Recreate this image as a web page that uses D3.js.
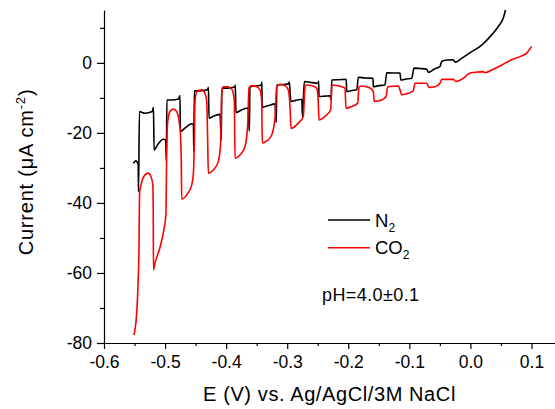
<!DOCTYPE html>
<html>
<head>
<meta charset="utf-8">
<script src="https://cdn.jsdelivr.net/npm/d3@7"></script>
<style>
  body { margin: 0; background: #fff; }
  text { font-family: Arial, "Liberation Sans", sans-serif; }
</style>
</head>
<body>
<div id="chart"></div>
<script>
// potential (V) and current density (uA cm-2)
const n2E = [-0.552,-0.548,-0.544,-0.5435,-0.542,-0.533,-0.521,-0.519,-0.518,-0.512,
  -0.503,-0.499,-0.498,-0.497,-0.489,-0.478,-0.4755,-0.475,-0.466,-0.456,
  -0.4535,-0.453,-0.452,-0.443,-0.4305,-0.429,-0.428,-0.420,-0.410,-0.408,
  -0.407,-0.397,-0.386,-0.385,-0.384,-0.374,-0.364,-0.362,-0.361,-0.351,
  -0.342,-0.3415,-0.341,-0.331,-0.320,-0.318,-0.317,-0.307,-0.298,-0.2965,
  -0.294,-0.286,-0.276,-0.275,-0.272,-0.261,-0.249,-0.2485,-0.248,-0.238,
  -0.230,-0.228,-0.227,-0.215,-0.2034,-0.2025,-0.194,-0.186,-0.1836,-0.173,
  -0.1595,-0.159,-0.150,-0.140,-0.137,-0.127,-0.1153,-0.114,-0.1055,-0.096,
  -0.0924,-0.0825,-0.0716,-0.0689,-0.0596,-0.0498,-0.047,-0.0383,-0.028,-0.0252,
  -0.0143,0.0021,0.0185,0.0348,0.0457,0.0538,0.0574];
const n2I = [-28.7,-28.0,-29,-36.8,-13.9,-14.4,-13.9,-12.7,-24.9,-23.3,
  -21.8,-22,-28,-10.6,-10.6,-10.3,-9.3,-19.6,-18.4,-17.4,
  -17.6,-25.3,-8.0,-8.0,-7.7,-7.0,-15.8,-15.2,-14.7,-22,
  -7.2,-7.2,-6.9,-6.3,-14.2,-13.4,-12.9,-19.5,-6.8,-6.6,
  -6.3,-5.5,-12.7,-12.2,-11.7,-17,-6.3,-6.2,-6.0,-5.5,
  -11.0,-10.7,-10.4,-15.3,-5.3,-5.6,-5.8,-5.2,-9.6,-9.5,
  -9.4,-10.5,-4.9,-4.8,-4.7,-8.2,-7.9,-7.7,-4.1,-4.3,
  -4.4,-6.8,-6.5,-6.3,-2.8,-2.9,-2.9,-4.9,-4.6,-4.4,
  -1.5,-1.6,-1.8,-2.7,-1.8,-1.0,0.4,0.8,0.9,0.2,
  1.3,3.2,5.1,8.0,10.4,12.8,15.1];

const co2E = [-0.551,-0.5465,-0.544,-0.5427,-0.5422,-0.5415,-0.538,-0.533,-0.5275,-0.523,
  -0.520,-0.5194,-0.519,-0.5165,-0.508,-0.502,-0.4985,-0.4977,-0.4957,-0.492,
  -0.4865,-0.481,-0.4755,-0.4735,-0.4728,-0.4646,-0.4564,-0.4538,-0.4521,-0.451,
  -0.448,-0.440,-0.4346,-0.4318,-0.4302,-0.4292,-0.421,-0.4128,-0.4089,-0.4073,
  -0.4046,-0.3965,-0.390,-0.3866,-0.3855,-0.3773,-0.3691,-0.3647,-0.3626,-0.3581,
  -0.350,-0.3446,-0.3418,-0.3408,-0.3336,-0.3254,-0.320,-0.3172,-0.3118,-0.3036,
  -0.2982,-0.2954,-0.2938,-0.2818,-0.2736,-0.2709,-0.2681,-0.2545,-0.2507,-0.2491,
  -0.248,-0.2381,-0.2288,-0.2271,-0.2245,-0.2108,-0.2054,-0.2037,-0.1944,-0.1846,
  -0.1824,-0.178,-0.1644,-0.159,-0.1574,-0.1453,-0.1382,-0.1355,-0.1181,-0.1153,
  -0.1125,-0.1017,-0.0935,-0.0907,-0.0716,-0.0678,-0.058,-0.0498,-0.047,-0.028,
  -0.0241,-0.0116,-0.0007,0.0075,0.0211,0.0239,0.0375,0.0512,0.0676,0.084,
  0.0922,0.1003];
const co2I = [-77.7,-71.5,-62,-52.5,-43,-36.8,-33.9,-32,-31.5,-32.5,
  -34.9,-41.5,-59.1,-57.2,-52.5,-47.7,-43,-30,-16.8,-13.9,
  -13.2,-13.9,-18.7,-27.2,-38.9,-37.7,-34.9,-32,-22.5,-11,
  -8.2,-7.7,-8.7,-11,-22.5,-31.5,-30.6,-28.2,-22.5,-9.1,
  -6.8,-6.8,-7.7,-11,-27.2,-26.3,-23.9,-17.7,-7.2,-6.5,
  -6.8,-7.7,-11,-22.9,-22.3,-20.6,-15.8,-6.8,-6.1,-6.5,
  -7.7,-12.5,-18.7,-17.2,-15.3,-6.8,-6.3,-6.8,-7.7,-11.5,
  -16.3,-15.3,-13.4,-6.8,-6.3,-6.8,-7.2,-13,-12.5,-11.5,
  -6.8,-6.6,-7.2,-8.2,-11,-10.6,-9.6,-6.8,-6.6,-7.7,
  -9.1,-8.7,-7.9,-5.8,-5.8,-7.0,-6.8,-5.8,-4.7,-4.7,
  -5.3,-4.4,-2.9,-2.7,-2.5,-2.8,-1.8,-0.6,0.9,2.0,
  2.8,4.7];

const xTicks = [-0.6,-0.5,-0.4,-0.3,-0.2,-0.1,0.0,0.1];
const xMinor = [-0.55,-0.45,-0.35,-0.25,-0.15,-0.05,0.05];
const yTicks = [-80,-60,-40,-20,0];
const yMinor = [-70,-50,-30,-10,10];

const seriesNames = ["N", "CO"];
const seriesColors = ["#000000", "#ff0000"];

const W = 555, H = 409;
const plotLeft = 104, plotRight = 555, plotTop = 10, plotBottom = 343;

const svg = d3.select("#chart")
    .append("svg")
    .attr("width", W)
    .attr("height", H);

const x = d3.scaleLinear().domain([-0.6, 0.1385]).range([plotLeft, plotRight]);
const y = d3.scaleLinear().domain([-80, 15.1]).range([plotBottom, plotTop]);

// axes
svg.append("g")
    .attr("transform", `translate(0, ${plotBottom})`)
    .call(d3.axisBottom(x).tickValues(xTicks).tickSize(6).tickSizeOuter(0).tickPadding(7)
        .tickFormat(d => d.toFixed(1)));
svg.append("g")
    .attr("transform", `translate(0, ${plotBottom})`)
    .call(d3.axisBottom(x).tickValues(xMinor).tickSize(3).tickFormat(""))
    .select(".domain").remove();

svg.append("g")
    .attr("transform", `translate(${plotLeft}, 0)`)
    .call(d3.axisLeft(y).tickValues(yTicks).tickSize(7).tickSizeOuter(0).tickPadding(5)
        .tickFormat(d => String(d)));
svg.append("g")
    .attr("transform", `translate(${plotLeft}, 0)`)
    .call(d3.axisLeft(y).tickValues(yMinor).tickSize(4).tickFormat(""))
    .select(".domain").remove();

svg.selectAll(".tick text")
    .attr("font-family", "Arial, 'Liberation Sans', sans-serif")
    .attr("font-size", 17.5)
    .attr("fill", "#000");
svg.selectAll(".domain, .tick line").attr("stroke", "#000").attr("stroke-width", 1.2);

// axis titles
svg.append("text")
    .attr("x", (plotLeft + plotRight) / 2)
    .attr("y", 401)
    .attr("text-anchor", "middle")
    .attr("font-size", 20)
    .attr("letter-spacing", 0.6)
    .text("E (V) vs. Ag/AgCl/3M NaCl");

const yt = svg.append("text")
    .attr("transform", "translate(33, 172) rotate(-90)")
    .attr("text-anchor", "middle")
    .attr("font-size", 20)
    .attr("letter-spacing", 0.8);
yt.append("tspan").text("Current (\u03BCA cm");
yt.append("tspan").attr("font-size", 13).attr("dy", -8).text("-2");
yt.append("tspan").attr("dy", 8).text(")");

// curves
const line = d3.line()
    .x(d => x(d[0]))
    .y(d => y(d[1]))
    .curve(d3.curveMonotoneX);

const n2 = n2E.map((e, i) => [e, n2I[i]]);
const co2 = co2E.map((e, i) => [e, co2I[i]]);

svg.append("path")
    .datum(n2)
    .attr("fill", "none")
    .attr("stroke", seriesColors[0])
    .attr("stroke-width", 1.6)
    .attr("d", line);

svg.append("path")
    .datum(co2)
    .attr("fill", "none")
    .attr("stroke", seriesColors[1])
    .attr("stroke-width", 1.6)
    .attr("d", line);

// legend
const legend = svg.append("g");
seriesNames.forEach((name, i) => {
    const ly = 220 + i * 27.7;
    legend.append("line")
        .attr("x1", 328).attr("x2", 370)
        .attr("y1", ly).attr("y2", ly)
        .attr("stroke", seriesColors[i])
        .attr("stroke-width", 1.6);
    const t = legend.append("text")
        .attr("x", 375)
        .attr("y", ly + 6.5)
        .attr("font-size", 18.5);
    t.append("tspan").text(name);
    t.append("tspan").attr("font-size", 12).attr("dy", 5).text("2");
});

svg.append("text")
    .attr("x", 322)
    .attr("y", 301)
    .attr("font-size", 18)
    .attr("letter-spacing", 0.4)
    .text("pH=4.0\u00B10.1");
</script>
</body>
</html>
